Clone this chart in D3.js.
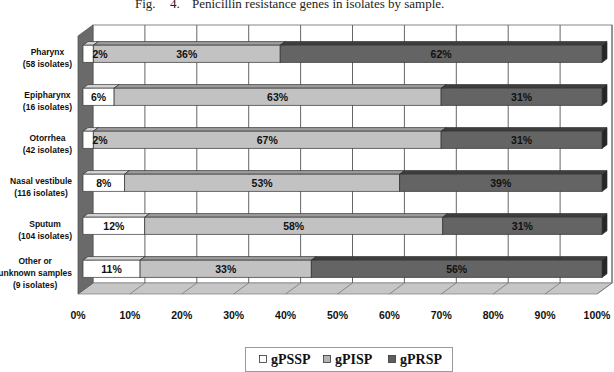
<!DOCTYPE html>
<html>
<head>
<meta charset="utf-8">
<script src="https://cdn.jsdelivr.net/npm/d3@7"></script>
<style>
  body { margin: 0; background: #fff; }
  svg { display: block; }
</style>
</head>
<body>
<svg id="chart"></svg>
<script>
// data
var categoryLines = [
  ["Pharynx", "(58 isolates)"],
  ["Epipharynx", "(16 isolates)"],
  ["Otorrhea", "(42 isolates)"],
  ["Nasal vestibule", "(116 isolates)"],
  ["Sputum", "(104 isolates)"],
  ["Other or", "unknown samples", "(9 isolates)"]
];
var seriesNames = ["gPSSP", "gPISP", "gPRSP"];
var gPSSP = [2, 6, 2, 8, 12, 11];
var gPISP = [36, 63, 67, 53, 58, 33];
var gPRSP = [62, 31, 31, 39, 31, 56];
var xTicks = [0, 10, 20, 30, 40, 50, 60, 70, 80, 90, 100];

var W = 614, H = 372;
var svg = d3.select("#chart").attr("width", W).attr("height", H);

// front plane of the 3d box, depth goes up and right
var front = {left: 78, right: 597, top: 36, bottom: 294};
var depth = [15, -11];

var x = d3.scaleLinear().domain([0, 1]).range([front.left, front.right]);
var y = d3.scaleBand()
  .domain(d3.range(categoryLines.length))
  .range([front.top, front.bottom])
  .paddingInner(0.6)
  .paddingOuter(0.3);

function p(xv, yPix, d) {
  return [x(xv) + depth[0] * d, yPix + depth[1] * d];
}
function poly(pts) {
  return pts.map(function(q) { return q.join(","); }).join(" ");
}

// rows for stack (100% stacked, normalised like excel)
var rows = categoryLines.map(function(c, i) {
  return {gPSSP: gPSSP[i], gPISP: gPISP[i], gPRSP: gPRSP[i]};
});
var stacked = d3.stack().keys(seriesNames).offset(d3.stackOffsetExpand)(rows);

var faceColors = {
  gPSSP: {front: "#ffffff", top: "#d6d6d6", side: "#b8b8b8"},
  gPISP: {front: "#c2c2c2", top: "#9c9c9c", side: "#888888"},
  gPRSP: {front: "#646464", top: "#3e3e3e", side: "#262626"}
};

// title (top half is cut off in the original)
var title = svg.append("g").attr("font-family", "'Liberation Serif', 'Times New Roman', serif")
  .attr("font-size", 13).attr("fill", "#222");
title.append("text").attr("x", 135).attr("y", 8).text("Fig.");
title.append("text").attr("x", 170).attr("y", 8).text("4.");
title.append("text").attr("x", 192).attr("y", 8).text("Penicillin resistance genes in isolates by sample.");

// walls
var walls = svg.append("g");
walls.append("rect")
  .attr("x", x(0) + depth[0]).attr("y", front.top + depth[1])
  .attr("width", x(1) - x(0)).attr("height", front.bottom - front.top)
  .attr("fill", "#fff").attr("stroke", "#888").attr("stroke-width", 1);
walls.append("polygon")
  .attr("points", poly([p(0, front.bottom, 0), p(1, front.bottom, 0), p(1, front.bottom, 1), p(0, front.bottom, 1)]))
  .attr("fill", "#c6c6c6").attr("stroke", "#888").attr("stroke-width", 0.8);
walls.append("polygon")
  .attr("points", poly([p(0, front.top, 0), p(0, front.top, 1), p(0, front.bottom, 1), p(0, front.bottom, 0)]))
  .attr("fill", "#6a6a6a").attr("stroke", "#555").attr("stroke-width", 0.8);

// gridlines on back wall and floor
var grid = svg.append("g").attr("stroke", "#666").attr("stroke-width", 1);
xTicks.slice(1).forEach(function(t) {
  var a = p(t / 100, front.top, 1), b = p(t / 100, front.bottom, 1), c = p(t / 100, front.bottom, 0);
  grid.append("line").attr("x1", a[0]).attr("y1", a[1]).attr("x2", b[0]).attr("y2", b[1]);
  grid.append("line").attr("x1", b[0]).attr("y1", b[1]).attr("x2", c[0]).attr("y2", c[1])
    .attr("stroke", "#777").attr("stroke-width", 0.8);
});

// bars
var d0 = 1 / 3, d1 = 2 / 3;
var bars = svg.append("g").attr("stroke", "#333").attr("stroke-width", 0.7).attr("stroke-linejoin", "round");
var labels = [];
categoryLines.forEach(function(c, i) {
  var y0 = y(i), y1 = y(i) + y.bandwidth();
  stacked.forEach(function(s) {
    var a = s[i][0], b = s[i][1], col = faceColors[s.key];
    bars.append("polygon")
      .attr("points", poly([p(a, y0, d0), p(b, y0, d0), p(b, y0, d1), p(a, y0, d1)]))
      .attr("fill", col.top);
    bars.append("polygon")
      .attr("points", poly([p(b, y0, d0), p(b, y0, d1), p(b, y1, d1), p(b, y1, d0)]))
      .attr("fill", col.side);
    bars.append("polygon")
      .attr("points", poly([p(a, y0, d0), p(b, y0, d0), p(b, y1, d0), p(a, y1, d0)]))
      .attr("fill", col.front);
    var val = {gPSSP: gPSSP, gPISP: gPISP, gPRSP: gPRSP}[s.key][i];
    labels.push({a: a, b: b, yc: (y0 + y1) / 2 + depth[1] * d0, text: val + "%"});
  });
});

// value labels
var valG = svg.append("g").attr("font-family", "'Liberation Sans', Arial, sans-serif")
  .attr("font-weight", "bold").attr("font-size", 10.5).attr("fill", "#111");
labels.forEach(function(l) {
  var xa = p(l.a, 0, d0)[0], xb = p(l.b, 0, d0)[0];
  var t = valG.append("text").attr("y", l.yc + 3.8).text(l.text);
  var w = t.node().getComputedTextLength();
  if (xb - xa < w + 4) {
    t.attr("x", xb - 1).attr("text-anchor", "start");
  } else {
    t.attr("x", (xa + xb) / 2).attr("text-anchor", "middle");
  }
});

// category labels: block right aligned near the axis, lines centred in block
var catG = svg.append("g").attr("font-family", "'Liberation Sans', Arial, sans-serif")
  .attr("font-weight", "bold").attr("font-size", 8.5).attr("fill", "#111");
var lineH = 12;
categoryLines.forEach(function(lines, i) {
  var yc = y(i) + y.bandwidth() / 2;
  var g = catG.append("g");
  var maxW = 0;
  var ts = lines.map(function(line, k) {
    var t = g.append("text").attr("text-anchor", "middle")
      .attr("y", yc + (k - (lines.length - 1) / 2) * lineH + 3).text(line);
    maxW = Math.max(maxW, t.node().getComputedTextLength());
    return t;
  });
  ts.forEach(function(t) { t.attr("x", 72 - maxW / 2); });
});

// x axis labels
var axG = svg.append("g").attr("font-family", "'Liberation Sans', Arial, sans-serif")
  .attr("font-weight", "bold").attr("font-size", 10.5).attr("fill", "#111")
  .attr("text-anchor", "middle");
axG.selectAll("text").data(xTicks).enter().append("text")
  .attr("x", function(d) { return x(d / 100); })
  .attr("y", 319)
  .text(function(d) { return d + "%"; });

// legend
var legend = svg.append("g");
legend.append("rect").attr("x", 245.5).attr("y", 347.5).attr("width", 207).attr("height", 24)
  .attr("fill", "#fff").attr("stroke", "#999").attr("stroke-width", 1);
var legendX = [259, 323, 388];
var legendFill = ["#ffffff", "#b4b4b4", "#5e5e5e"];
seriesNames.forEach(function(name, k) {
  legend.append("rect").attr("x", legendX[k] + 0.5).attr("y", 355.5).attr("width", 7).attr("height", 7)
    .attr("fill", legendFill[k]).attr("stroke", "#333").attr("stroke-width", 0.8);
  legend.append("text").attr("x", legendX[k] + 12).attr("y", 364)
    .attr("font-family", "'Liberation Serif', 'Times New Roman', serif")
    .attr("font-weight", "bold").attr("font-size", 14).attr("fill", "#111")
    .text(name);
});
</script>
</body>
</html>
